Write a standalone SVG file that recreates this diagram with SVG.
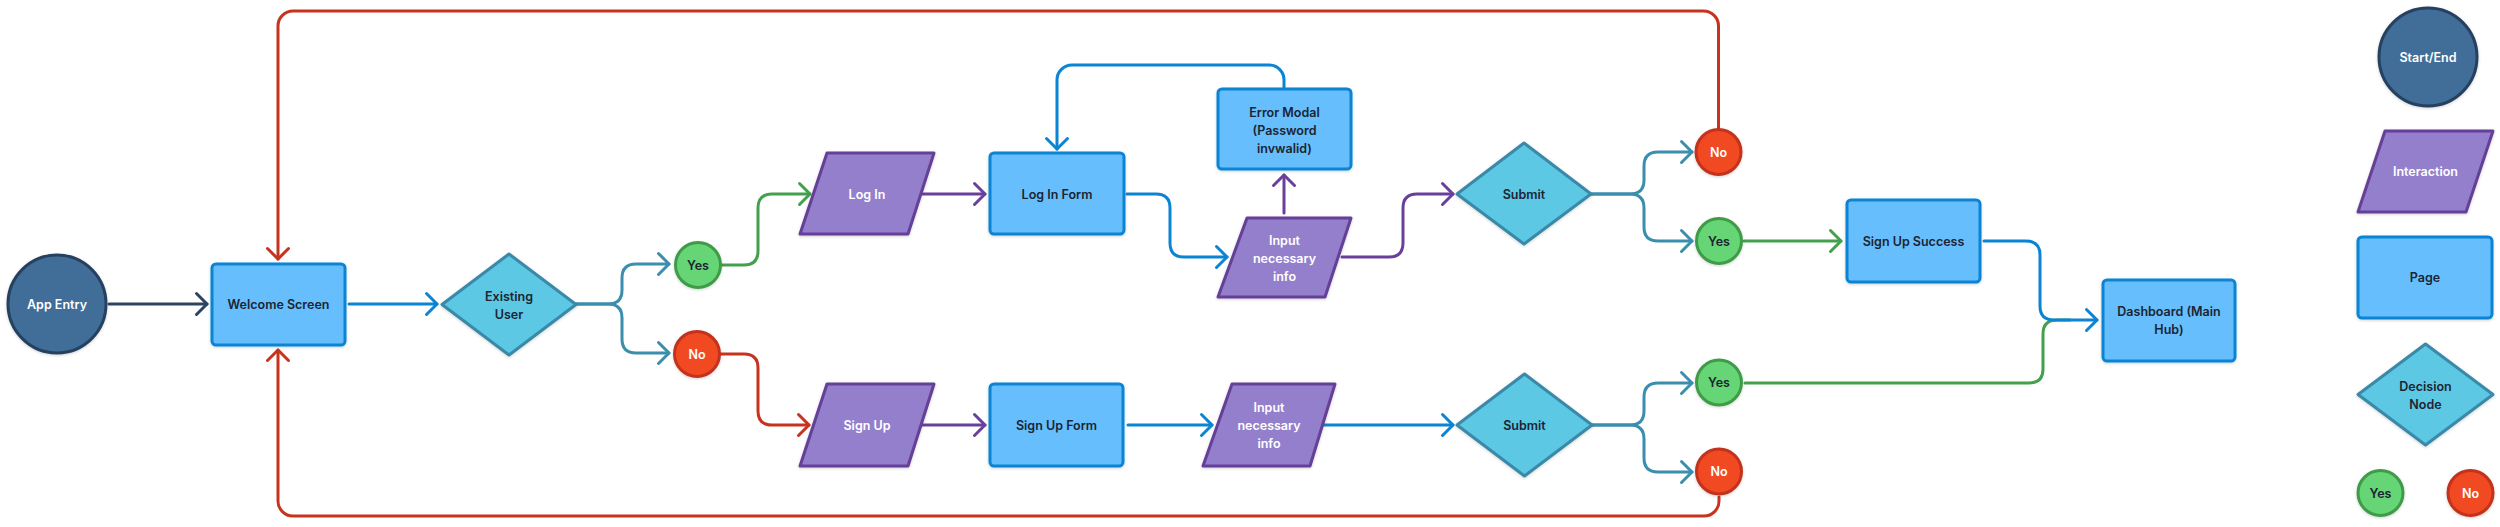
<svg xmlns="http://www.w3.org/2000/svg" width="2500" height="527" viewBox="0 0 2500 527">
<style>
.t{font-family:Inter,"Noto Sans","Liberation Sans",sans-serif;font-size:12.5px;font-weight:600;text-anchor:middle}
.d{fill:#1c2433}.w{fill:#ffffff}
.n{stroke-width:3;stroke-linejoin:round;filter:url(#sh)}
.start{fill:#3f6e99;stroke:#26405f}
.inter{fill:#937fcc;stroke:#653f98}
.page{fill:#66bffc;stroke:#0b84d3}
.dec{fill:#5cc8e3;stroke:#3a89a8}
.yes{fill:#66d576;stroke:#3f9b48}
.no{fill:#f14a22;stroke:#c2321b}
.c{fill:none;stroke-width:3;stroke-linecap:round;stroke-linejoin:round}
.cn{stroke:#2c4364;marker-end:url(#mn)}
.cb{stroke:#0b84d3;marker-end:url(#mb)}
.ct{stroke:#3b8ead;marker-end:url(#mt)}
.cp{stroke:#6a3f9c;marker-end:url(#mp)}
.cg{stroke:#43a04c;marker-end:url(#mg)}
.cr{stroke:#c8331d;marker-end:url(#mr)}
.nm{marker-end:none}
</style>
<defs>
<filter id="sh" x="-20%" y="-20%" width="140%" height="140%"><feDropShadow dx="0" dy="1" stdDeviation="1.5" flood-color="#000" flood-opacity="0.18"/></filter>
<marker id="mn" viewBox="-15 -15 30 30" markerWidth="30" markerHeight="30" refX="0" refY="0" orient="auto" markerUnits="userSpaceOnUse"><path d="M-10.5 -10.5 L0 0 L-10.5 10.5" fill="none" stroke="#2c4364" stroke-width="3" stroke-linecap="round" stroke-linejoin="round"/></marker>
<marker id="mb" viewBox="-15 -15 30 30" markerWidth="30" markerHeight="30" refX="0" refY="0" orient="auto" markerUnits="userSpaceOnUse"><path d="M-10.5 -10.5 L0 0 L-10.5 10.5" fill="none" stroke="#0b84d3" stroke-width="3" stroke-linecap="round" stroke-linejoin="round"/></marker>
<marker id="mt" viewBox="-15 -15 30 30" markerWidth="30" markerHeight="30" refX="0" refY="0" orient="auto" markerUnits="userSpaceOnUse"><path d="M-10.5 -10.5 L0 0 L-10.5 10.5" fill="none" stroke="#3b8ead" stroke-width="3" stroke-linecap="round" stroke-linejoin="round"/></marker>
<marker id="mp" viewBox="-15 -15 30 30" markerWidth="30" markerHeight="30" refX="0" refY="0" orient="auto" markerUnits="userSpaceOnUse"><path d="M-10.5 -10.5 L0 0 L-10.5 10.5" fill="none" stroke="#6a3f9c" stroke-width="3" stroke-linecap="round" stroke-linejoin="round"/></marker>
<marker id="mg" viewBox="-15 -15 30 30" markerWidth="30" markerHeight="30" refX="0" refY="0" orient="auto" markerUnits="userSpaceOnUse"><path d="M-10.5 -10.5 L0 0 L-10.5 10.5" fill="none" stroke="#43a04c" stroke-width="3" stroke-linecap="round" stroke-linejoin="round"/></marker>
<marker id="mr" viewBox="-15 -15 30 30" markerWidth="30" markerHeight="30" refX="0" refY="0" orient="auto" markerUnits="userSpaceOnUse"><path d="M-10.5 -10.5 L0 0 L-10.5 10.5" fill="none" stroke="#c8331d" stroke-width="3" stroke-linecap="round" stroke-linejoin="round"/></marker>
</defs>

<g id="connectors">
<path class="c cn" d="M109 304 H207"/>
<path class="c cb" d="M349 304 H437"/>
<path class="c ct" d="M576 304 H608 Q622 304 622 290 V278 Q622 264 636 264 H669"/>
<path class="c ct" d="M576 304 H608 Q622 304 622 318 V339 Q622 353 636 353 H669"/>
<path class="c cg" d="M721 265 H744 Q758 265 758 251 V208 Q758 194 772 194 H810"/>
<path class="c cr" d="M719 354 H744 Q758 354 758 368 V411 Q758 425 772 425 H809"/>
<path class="c cp" d="M923 194 H985"/>
<path class="c cb" d="M1127 194 H1156 Q1170 194 1170 208 V243 Q1170 257 1184 257 H1227"/>
<path class="c cp" d="M1284 213 V175"/>
<path class="c cb" d="M1284 87 V80 A15 15 0 0 0 1269 65 H1072 A15 15 0 0 0 1057 80 V149"/>
<path class="c cp" d="M1342 257 H1389 Q1403 257 1403 243 V208 Q1403 194 1417 194 H1453"/>
<path class="c ct" d="M1591 194 H1630 Q1644 194 1644 180 V166 Q1644 152 1658 152 H1692"/>
<path class="c ct" d="M1591 194 H1630 Q1644 194 1644 208 V227 Q1644 241 1658 241 H1692"/>
<path class="c cr nm" d="M1718.5 128 V26 A15 15 0 0 0 1703.5 11 H293 A15 15 0 0 0 278 26 V259" style="marker-end:url(#mr)"/>
<path class="c cg" d="M1744 241 H1841"/>
<path class="c cg nm" d="M1745 383 H2029 Q2043 383 2043 369 V334 Q2043 320 2057 320 H2070"/>
<path class="c cb" d="M1984 241 H2026 Q2040 241 2040 255 V306 Q2040 320 2054 320 H2097"/>
<path class="c cp" d="M922 425 H985"/>
<path class="c cb" d="M1128 425 H1212"/>
<path class="c cb" d="M1324 425 H1453"/>
<path class="c ct" d="M1592 425 H1630 Q1644 425 1644 411 V397 Q1644 383 1658 383 H1692"/>
<path class="c ct" d="M1592 425 H1630 Q1644 425 1644 439 V458 Q1644 472 1658 472 H1692"/>
<path class="c cr" d="M1719 497 V501 A15 15 0 0 1 1704 516 H293 A15 15 0 0 1 278 501 V350"/>
</g>

<g id="app-entry"><circle class="n start" cx="57" cy="304" r="49"/><text class="t w" x="57" y="308.5">App Entry</text></g>
<g id="welcome-screen"><rect class="n page" x="212" y="264" width="133" height="81" rx="4"/><text class="t d" x="278.5" y="309">Welcome Screen</text></g>
<g id="existing-user"><polygon class="n dec" points="442,304.5 509,254 576,304.5 509,355"/><text class="t d" x="509" y="300.5">Existing</text><text class="t d" x="509" y="318.5">User</text></g>
<g id="yes-1"><circle class="n yes" cx="698" cy="265" r="22.5"/><text class="t d" x="698" y="269.5">Yes</text></g>
<g id="no-1"><circle class="n no" cx="697" cy="354" r="22.5"/><text class="t w" x="697" y="358.5">No</text></g>
<g id="log-in"><polygon class="n inter" points="827,153 934,153 908,234 800,234"/><text class="t w" x="867" y="198.5">Log In</text></g>
<g id="log-in-form"><rect class="n page" x="990" y="153" width="134" height="81" rx="4"/><text class="t d" x="1057" y="198.5">Log In Form</text></g>
<g id="error-modal"><rect class="n page" x="1218" y="89" width="133" height="80" rx="4"/><text class="t d" x="1284.5" y="116.5">Error Modal</text><text class="t d" x="1284.5" y="134.5">(Password</text><text class="t d" x="1284.5" y="152.5">invwalid)</text></g>
<g id="input-login"><polygon class="n inter" points="1247,218 1351,218 1325,297 1218,297"/><text class="t w" x="1284.5" y="244.5">Input</text><text class="t w" x="1284.5" y="262.5">necessary</text><text class="t w" x="1284.5" y="280.5">info</text></g>
<g id="submit-login"><polygon class="n dec" points="1457,194 1524,143 1591,194 1524,244"/><text class="t d" x="1524" y="198.5">Submit</text></g>
<g id="no-2"><circle class="n no" cx="1718.5" cy="152" r="22.5"/><text class="t w" x="1718.5" y="156.5">No</text></g>
<g id="yes-2"><circle class="n yes" cx="1719" cy="241" r="22.5"/><text class="t d" x="1719" y="245.5">Yes</text></g>
<g id="sign-up-success"><rect class="n page" x="1847" y="200" width="133" height="82" rx="4"/><text class="t d" x="1913.5" y="245.5">Sign Up Success</text></g>
<g id="dashboard"><rect class="n page" x="2103" y="280" width="132" height="81" rx="4"/><text class="t d" x="2169" y="316">Dashboard (Main</text><text class="t d" x="2169" y="334">Hub)</text></g>
<g id="sign-up"><polygon class="n inter" points="827,384 934,384 908,466 800,466"/><text class="t w" x="867" y="429.5">Sign Up</text></g>
<g id="sign-up-form"><rect class="n page" x="990" y="384" width="133" height="82" rx="4"/><text class="t d" x="1056.5" y="429.5">Sign Up Form</text></g>
<g id="input-signup"><polygon class="n inter" points="1232,384 1335,384 1310,466 1203,466"/><text class="t w" x="1269" y="412">Input</text><text class="t w" x="1269" y="430">necessary</text><text class="t w" x="1269" y="448">info</text></g>
<g id="submit-signup"><polygon class="n dec" points="1457,425 1524.5,374 1592,425 1524.5,476"/><text class="t d" x="1524.5" y="429.5">Submit</text></g>
<g id="yes-3"><circle class="n yes" cx="1719" cy="382.5" r="22.5"/><text class="t d" x="1719" y="387">Yes</text></g>
<g id="no-3"><circle class="n no" cx="1719" cy="471.5" r="22.5"/><text class="t w" x="1719" y="476">No</text></g>

<g id="legend-start-end"><circle class="n start" cx="2428" cy="57" r="49"/><text class="t w" x="2428" y="61.5">Start/End</text></g>
<g id="legend-interaction"><polygon class="n inter" points="2385,131 2493,131 2466,212 2358,212"/><text class="t w" x="2425.5" y="176">Interaction</text></g>
<g id="legend-page"><rect class="n page" x="2358" y="237" width="134" height="81" rx="4"/><text class="t d" x="2425" y="282">Page</text></g>
<g id="legend-decision"><polygon class="n dec" points="2358,394.5 2425.5,344 2493,394.5 2425.5,445"/><text class="t d" x="2425.5" y="390.5">Decision</text><text class="t d" x="2425.5" y="408.5">Node</text></g>
<g id="legend-yes"><circle class="n yes" cx="2380.5" cy="493" r="22.5"/><text class="t d" x="2380.5" y="497.5">Yes</text></g>
<g id="legend-no"><circle class="n no" cx="2470.5" cy="493" r="22.5"/><text class="t w" x="2470.5" y="497.5">No</text></g>
</svg>
